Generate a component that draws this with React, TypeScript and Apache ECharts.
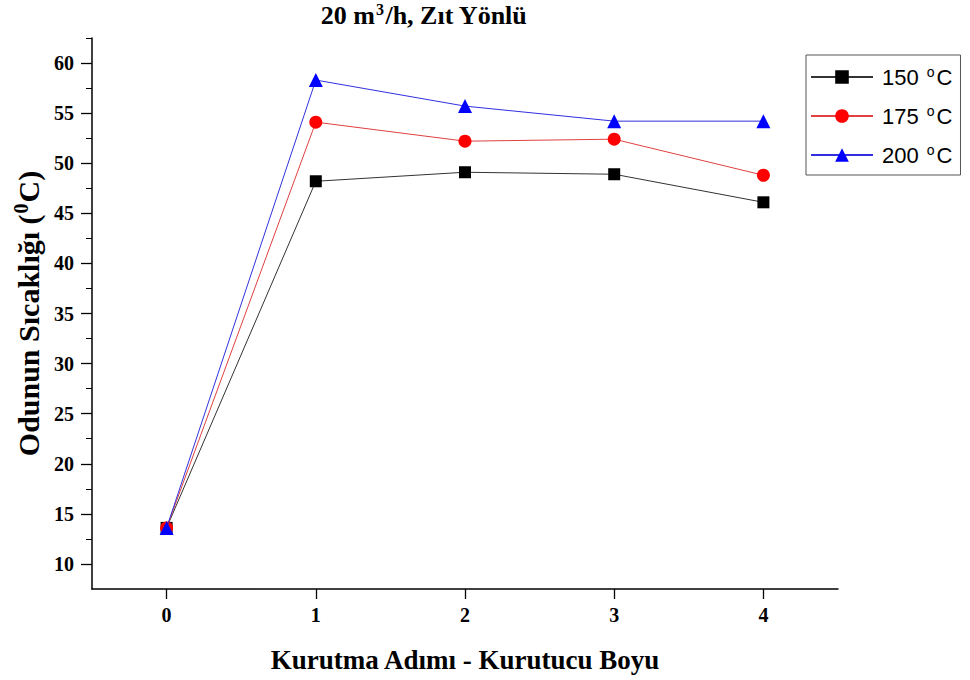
import React, { useEffect, useRef } from "react";
import * as echarts from "echarts";

const categories = [0, 1, 2, 3, 4];
const seriesNames = ["150 °C", "175 °C", "200 °C"];
const values150 = [13.6, 48.2, 49.1, 48.9, 46.1];
const values175 = [13.6, 54.1, 52.2, 52.4, 48.8];
const values200 = [13.6, 58.3, 55.7, 54.2, 54.2];
const yMajorTicks = [10, 15, 20, 25, 30, 35, 40, 45, 50, 55, 60];
const yMinorTicks = [12.5, 17.5, 22.5, 27.5, 32.5, 37.5, 42.5, 47.5, 52.5, 57.5, 62.5];

export default function App() {
  const ref = useRef<HTMLDivElement>(null);
  useEffect(() => {
    if (!ref.current) return;
    const chart = echarts.init(ref.current, undefined, { renderer: "svg" });
    const serif = "Liberation Serif";
    const mk = (i: number, vals: number[], color: string, lineColor: string, symbol: string, size: number) => ({
      name: seriesNames[i],
      type: "line",
      data: categories.map((c, k) => [c, vals[k]]),
      symbol,
      symbolSize: size,
      itemStyle: { color },
      lineStyle: { color: lineColor, width: 1 },
      z: 3 + i,
    });
    chart.setOption({
      animation: false,
      backgroundColor: "#fff",
      title: {
        text: "{a|20 m}{s|3}{a|/h, Zıt Yönlü}",
        left: 424,
        top: 1,
        padding: 0,
        textAlign: "center",
        textStyle: {
          rich: {
            a: { fontFamily: serif, fontWeight: "bold", fontSize: 26, color: "#000" },
            s: { fontFamily: serif, fontWeight: "bold", fontSize: 16, color: "#000", verticalAlign: "top", padding: [0, 1, 12, 1] },
          },
        },
      },
      legend: {
        orient: "vertical",
        left: 806,
        top: 55,
        width: 157,
        padding: [10, 8, 9, 4],
        itemGap: 16,
        itemWidth: 62,
        itemHeight: 17,
        borderColor: "#555",
        borderWidth: 1,
        borderRadius: 0,
        formatter: (n: string) => n.replace(" °C", " {s|o}C"),
        textStyle: {
          fontFamily: "Liberation Sans",
          fontSize: 22,
          color: "#000",
          padding: [0, 0, 0, 4],
          rich: {
            s: { fontFamily: "Liberation Sans", fontSize: 14, color: "#000", verticalAlign: "top", padding: [0, 2, 10, 2] },
          },
        },
        data: seriesNames,
      },
      grid: { left: 92, right: 132, top: 38, bottom: 91, containLabel: false, outerBoundsMode: "none" },
      xAxis: {
        type: "value",
        min: -0.5,
        max: 4.5,
        name: "Kurutma Adımı - Kurutucu Boyu",
        nameLocation: "middle",
        nameGap: 57,
        nameTextStyle: { fontFamily: serif, fontWeight: "bold", fontSize: 27, color: "#000" },
        axisLine: { show: true, onZero: false, lineStyle: { color: "#000", width: 1.5 } },
        axisTick: { show: true, inside: false, length: 10, customValues: categories, lineStyle: { color: "#000", width: 1.3 } },
        axisLabel: { customValues: categories, margin: 16, fontFamily: serif, fontWeight: "bold", fontSize: 20, color: "#000" },
        splitLine: { show: false },
      },
      yAxis: [
        {
          type: "value",
          min: 7.5,
          max: 62.5,
          name: "{a|Odunun Sıcaklığı (}{s|0}{a|C)}",
          nameLocation: "middle",
          nameGap: 47,
          nameTextStyle: {
            rich: {
              a: { fontFamily: serif, fontWeight: "bold", fontSize: 30, color: "#000" },
              s: { fontFamily: serif, fontWeight: "bold", fontSize: 20, color: "#000", verticalAlign: "top", padding: [0, 1, 14, 1] },
            },
          },
          axisLine: { show: true, onZero: false, lineStyle: { color: "#000", width: 1.5 } },
          axisTick: { show: true, inside: false, length: 11, customValues: yMajorTicks, lineStyle: { color: "#000", width: 1.3 } },
          axisLabel: { customValues: yMajorTicks, margin: 18, fontFamily: serif, fontWeight: "bold", fontSize: 20, color: "#000" },
          splitLine: { show: false },
        },
        {
          type: "value",
          min: 7.5,
          max: 62.5,
          position: "left",
          axisLine: { show: false, onZero: false },
          axisTick: { show: true, inside: false, length: 6, customValues: yMinorTicks, lineStyle: { color: "#000", width: 1 } },
          axisLabel: { show: false },
          splitLine: { show: false },
        },
      ],
      series: [
        mk(0, values150, "#000", "#333", "rect", 12),
        mk(1, values175, "#f00", "#e04040", "circle", 13),
        mk(2, values200, "#00f", "#3030e0", "triangle", 14),
      ],
    });
    return () => chart.dispose();
  }, []);
  return <div ref={ref} style={{ position: "absolute", left: 0, top: 0, width: 970, height: 680 }} />;
}
